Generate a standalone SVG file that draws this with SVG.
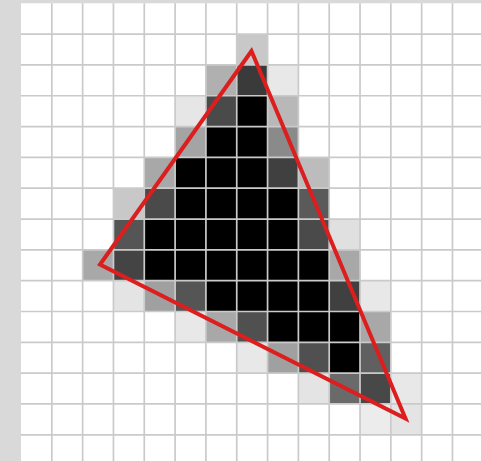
<svg xmlns="http://www.w3.org/2000/svg" width="481" height="461" viewBox="0 0 481 461">
  <style>
    .k{fill:#000}
    .grid{fill:none;stroke:#cacaca;stroke-width:0.055}
    .tri{fill:none;stroke:#dc1e1e;stroke-width:4;stroke-linejoin:miter;stroke-miterlimit:10}
  </style>
  <rect x="0" y="0" width="481" height="461" fill="#d9d9d9"/>
  <g id="raster" transform="translate(21 3.3) scale(30.82)">
    <rect x="0" y="0" width="15" height="15" fill="#ffffff"/>
    <!-- row 1 -->
    <rect x="7" y="1" width="1" height="1" fill="#c8c8c8"/>
    <!-- row 2 -->
    <rect x="6" y="2" width="1" height="1" fill="#b0b0b0"/>
    <rect x="7" y="2" width="1" height="1" fill="#3a3a3a"/>
    <rect x="8" y="2" width="1" height="1" fill="#e8e8e8"/>
    <!-- row 3 -->
    <rect x="5" y="3" width="1" height="1" fill="#e6e6e6"/>
    <rect x="6" y="3" width="1" height="1" fill="#4a4a4a"/>
    <rect x="7" y="3" width="1" height="1" class="k"/>
    <rect x="8" y="3" width="1" height="1" fill="#b8b8b8"/>
    <!-- row 4 -->
    <rect x="5" y="4" width="1" height="1" fill="#a4a4a4"/>
    <rect x="6" y="4" width="2" height="1" class="k"/>
    <rect x="8" y="4" width="1" height="1" fill="#8a8a8a"/>
    <!-- row 5 -->
    <rect x="4" y="5" width="1" height="1" fill="#a8a8a8"/>
    <rect x="5" y="5" width="3" height="1" class="k"/>
    <rect x="8" y="5" width="1" height="1" fill="#404040"/>
    <rect x="9" y="5" width="1" height="1" fill="#bcbcbc"/>
    <!-- row 6 -->
    <rect x="3" y="6" width="1" height="1" fill="#c8c8c8"/>
    <rect x="4" y="6" width="1" height="1" fill="#4a4a4a"/>
    <rect x="5" y="6" width="4" height="1" class="k"/>
    <rect x="9" y="6" width="1" height="1" fill="#5a5a5a"/>
    <!-- row 7 -->
    <rect x="3" y="7" width="1" height="1" fill="#555555"/>
    <rect x="4" y="7" width="5" height="1" class="k"/>
    <rect x="9" y="7" width="1" height="1" fill="#4a4a4a"/>
    <rect x="10" y="7" width="1" height="1" fill="#e0e0e0"/>
    <!-- row 8 -->
    <rect x="2" y="8" width="1" height="1" fill="#a8a8a8"/>
    <rect x="3" y="8" width="1" height="1" fill="#444444"/>
    <rect x="4" y="8" width="6" height="1" class="k"/>
    <rect x="10" y="8" width="1" height="1" fill="#a8a8a8"/>
    <!-- row 9 -->
    <rect x="3" y="9" width="1" height="1" fill="#e4e4e4"/>
    <rect x="4" y="9" width="1" height="1" fill="#a0a0a0"/>
    <rect x="5" y="9" width="1" height="1" fill="#555555"/>
    <rect x="6" y="9" width="4" height="1" class="k"/>
    <rect x="10" y="9" width="1" height="1" fill="#404040"/>
    <rect x="11" y="9" width="1" height="1" fill="#e8e8e8"/>
    <!-- row 10 -->
    <rect x="5" y="10" width="1" height="1" fill="#e8e8e8"/>
    <rect x="6" y="10" width="1" height="1" fill="#a8a8a8"/>
    <rect x="7" y="10" width="1" height="1" fill="#505050"/>
    <rect x="8" y="10" width="3" height="1" class="k"/>
    <rect x="11" y="10" width="1" height="1" fill="#a8a8a8"/>
    <!-- row 11 -->
    <rect x="7" y="11" width="1" height="1" fill="#e8e8e8"/>
    <rect x="8" y="11" width="1" height="1" fill="#a0a0a0"/>
    <rect x="9" y="11" width="1" height="1" fill="#505050"/>
    <rect x="10" y="11" width="1" height="1" class="k"/>
    <rect x="11" y="11" width="1" height="1" fill="#606060"/>
    <!-- row 12 -->
    <rect x="9" y="12" width="1" height="1" fill="#e4e4e4"/>
    <rect x="10" y="12" width="1" height="1" fill="#6a6a6a"/>
    <rect x="11" y="12" width="1" height="1" fill="#484848"/>
    <rect x="12" y="12" width="1" height="1" fill="#e8e8e8"/>
    <!-- row 13 -->
    <rect x="11" y="13" width="1" height="1" fill="#ececec"/>
    <rect x="12" y="13" width="1" height="1" fill="#e4e4e4"/>
    <!-- grid lines -->
    <path class="grid" d="M1 0V15M2 0V15M3 0V15M4 0V15M5 0V15M6 0V15M7 0V15M8 0V15M9 0V15M10 0V15M11 0V15M12 0V15M13 0V15M14 0V15M0 1H15M0 2H15M0 3H15M0 4H15M0 5H15M0 6H15M0 7H15M0 8H15M0 9H15M0 10H15M0 11H15M0 12H15M0 13H15M0 14H15"/>
  </g>
  <g id="triangle">
    <polygon class="tri" points="251.5,51 100,264.5 405.5,418.5"/>
  </g>
</svg>
